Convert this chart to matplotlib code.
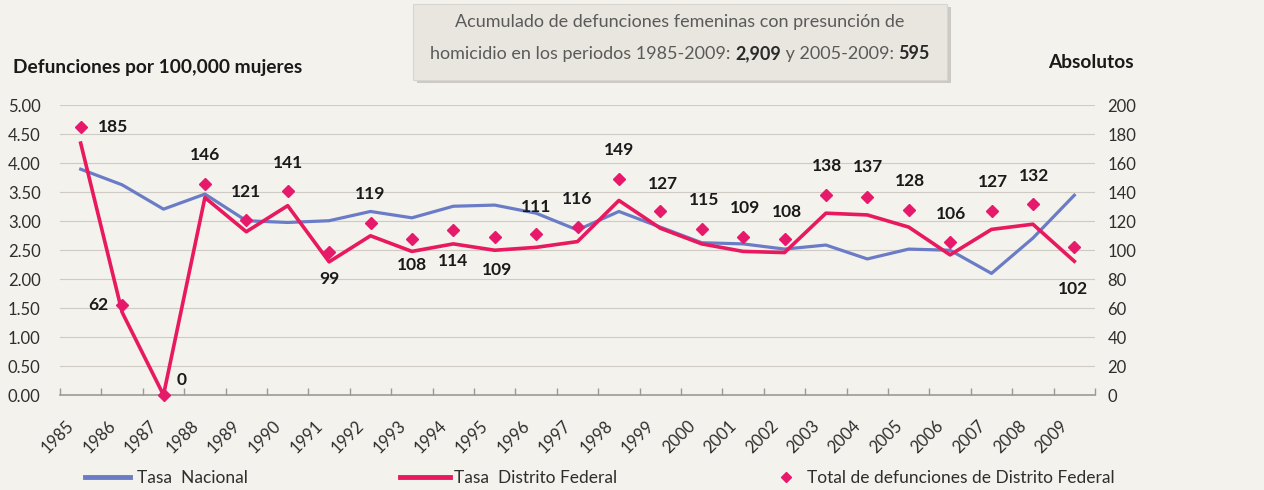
import numpy as np
import matplotlib.pyplot as plt
from matplotlib.lines import Line2D
from matplotlib.patches import Rectangle

plt.rcParams['font.family'] = ['Lato', 'DejaVu Sans']

years = [str(y) for y in range(1985, 2010)]
tasa_nacional = [3.90, 3.63, 3.21, 3.47, 3.01, 2.98, 3.01, 3.17, 3.06, 3.26, 3.28, 3.14,
                 2.85, 3.17, 2.90, 2.63, 2.61, 2.52, 2.59, 2.35, 2.52, 2.50, 2.10, 2.71, 3.45]
tasa_df = [4.35, 1.43, 0.00, 3.41, 2.82, 3.27, 2.30, 2.75, 2.48, 2.61, 2.50, 2.55,
           2.65, 3.36, 2.88, 2.61, 2.48, 2.46, 3.14, 3.11, 2.90, 2.42, 2.86, 2.95, 2.31]
total_df = [185, 62, 0, 146, 121, 141, 99, 119, 108, 114, 109, 111,
            116, 149, 127, 115, 109, 108, 138, 137, 128, 106, 127, 132, 102]

# label offsets in pixels (dx, dy) relative to each diamond
label_off = [(32, 0), (-24, 0), (18, 15), (0, 29), (0, 28), (0, 28), (0, -27), (0, 29),
             (0, -26), (0, -31), (2, -33), (0, 27), (0, 28), (0, 29), (3, 27), (2, 29),
             (2, 29), (2, 27), (1, 29), (1, 30), (1, 29), (1, 28), (1, 29), (1, 28), (-1, -42)]

BG = '#f4f2ed'
BLUE = '#6b7cc6'
PINK = '#e8195f'
DIAM = '#e6196b'
TXT = '#2e2e2e'

W, H = 1264, 490
fig = plt.figure(figsize=(W / 100, H / 100), dpi=100)
fig.patch.set_facecolor(BG)

ax = fig.add_axes([60 / W, 95 / H, 1035 / W, 289.5 / H])
ax.set_facecolor('none')
x = np.arange(len(years))

ax.plot(x, tasa_nacional, color=BLUE, lw=2.3, zorder=3)
ax.plot(x, tasa_df, color=PINK, lw=2.6, zorder=4)
ax.set_xlim(-0.5, len(years) - 0.5)
ax.set_ylim(0, 5)
yt = np.arange(0, 5.01, 0.5)
ax.set_yticks(yt)
ax.set_yticklabels([f'{v:.2f}' for v in yt], fontsize=12, color=TXT)
ax.yaxis.grid(True, color='#cfcac3', lw=0.8)
ax.set_axisbelow(True)
ax.tick_params(axis='y', length=0, pad=14)
for s in ['top', 'left', 'right']:
    ax.spines[s].set_visible(False)
ax.spines['bottom'].set_color('#9c9a97')
ax.spines['bottom'].set_linewidth(1.2)
ax.set_xticks([])
ax.set_xticks(np.arange(-0.5, len(years), 1), minor=True)
ax.tick_params(axis='x', which='minor', direction='in', length=5, color='#9c9a97', width=1)

for i, yr in enumerate(years):
    ax.annotate(yr, xy=(i, 0), xycoords=('data', 'axes fraction'), xytext=(-9, -28),
                textcoords='offset pixels', rotation=45, ha='right', va='center',
                rotation_mode='anchor', fontsize=12, color=TXT)

ax2 = ax.twinx()
ax2.set_ylim(0, 200)
ax2.set_yticks(np.arange(0, 201, 20))
ax2.tick_params(axis='y', length=0, pad=9, labelsize=12, labelcolor=TXT)
for s in ax2.spines.values():
    s.set_visible(False)
ax2.plot(x, total_df, 'D', color=DIAM, ms=6, zorder=5, clip_on=False)
for i, v in enumerate(total_df):
    dx, dy = label_off[i]
    ax2.annotate(str(v), xy=(i, v), xytext=(dx, dy), textcoords='offset pixels',
                 ha='center', va='center', fontsize=12.5, fontweight='bold', color='#1a1a1a')

# axis titles
fig.text(13 / W, 1 - 68 / H, 'Defunciones por 100,000 mujeres', fontsize=13.8,
         fontweight='bold', color='#1a1a1a', va='center', ha='left')
fig.text(1134 / W, 1 - 62 / H, 'Absolutos', fontsize=13.8, fontweight='bold',
         color='#1a1a1a', va='center', ha='right')

# top note box
fig.patches.append(Rectangle((417 / W, 1 - 83 / H), 534 / W, 76 / H, transform=fig.transFigure,
                             facecolor='#cdcac5', edgecolor='none', zorder=0))
fig.patches.append(Rectangle((413 / W, 1 - 80 / H), 534 / W, 76 / H, transform=fig.transFigure,
                             facecolor='#e9e6e0', edgecolor='#d8d4ce', lw=0.8, zorder=1))
NOTE = '#5a5a5a'
fig.text(680 / W, 1 - 22 / H, 'Acumulado de defunciones femeninas con presunción de',
         fontsize=13, color=NOTE, ha='center', va='center')
parts = [('homicidio en los periodos 1985-2009: ', 'normal', NOTE),
         ('2,909', 'bold', '#2a2a2a'),
         (' y 2005-2009: ', 'normal', NOTE),
         ('595', 'bold', '#2a2a2a')]
texts = [fig.text(0, 1 - 59 / H, s, fontsize=13, fontweight=w, color=c, ha='left',
                  va='baseline') for s, w, c in parts]
renderer = fig.canvas.get_renderer()
widths = [t.get_window_extent(renderer).width for t in texts]
xpos = 680 - sum(widths) / 2
for t, w in zip(texts, widths):
    t.set_x(xpos / W)
    xpos += w

# legends
h1 = Line2D([], [], color=BLUE, lw=3.5)
h2 = Line2D([], [], color=PINK, lw=3.5)
h3 = Line2D([], [], color=DIAM, marker='D', ms=5.5, ls='none')
common = dict(frameon=False, fontsize=12.5, borderpad=0, borderaxespad=0,
              loc='center left', labelcolor=TXT)
fig.legend([h1], ['Tasa  Nacional'], bbox_to_anchor=(85 / W, 1 - 478 / H),
           handlelength=2.6, handletextpad=0.4, **common)
fig.legend([h2], ['Tasa  Distrito Federal'], bbox_to_anchor=(400 / W, 1 - 478 / H),
           handlelength=2.9, handletextpad=0.2, **common)
fig.legend([h3], ['Total de defunciones de Distrito Federal'],
           bbox_to_anchor=(777 / W, 1 - 478 / H),
           handlelength=1.0, handletextpad=0.7, **common)

fig.savefig('out.png', dpi=100, facecolor=BG)
